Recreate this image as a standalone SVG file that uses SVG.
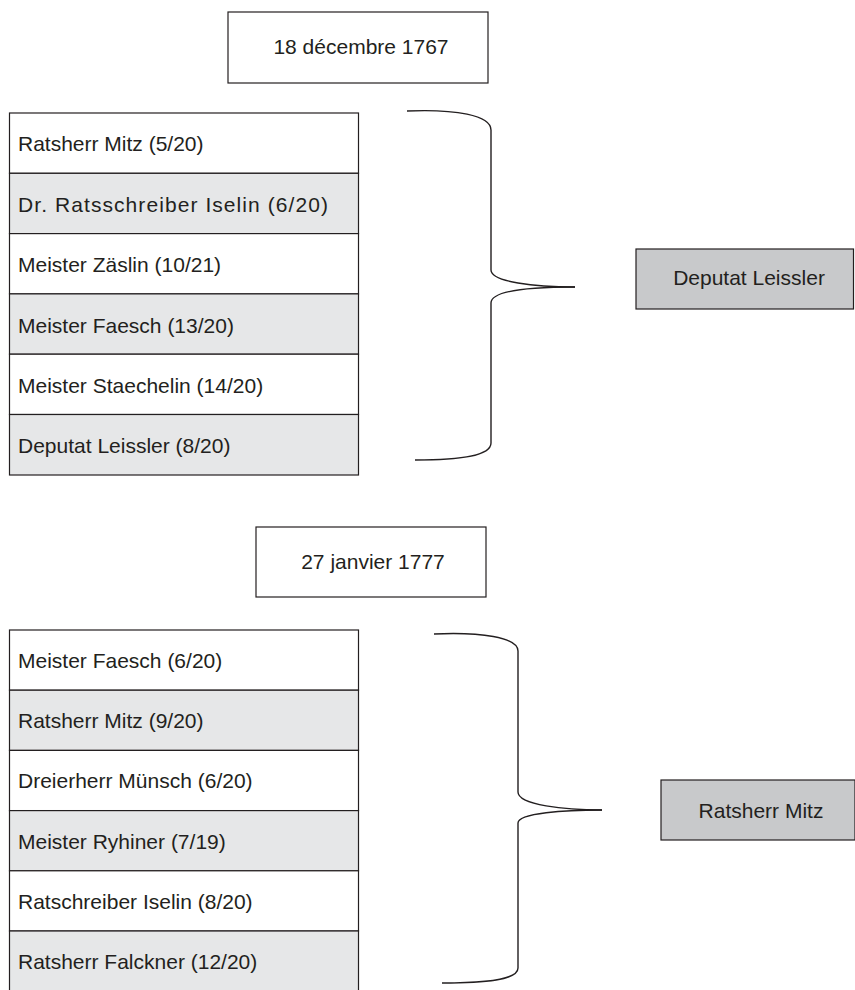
<svg xmlns="http://www.w3.org/2000/svg" width="855" height="990" viewBox="0 0 855 990">
  <style>
    text { font-family: "Liberation Sans", Arial, sans-serif; font-size: 21px; fill: #231f20; }
    .box { fill: #ffffff; stroke: #231f20; stroke-width: 1.2; }
    .row { fill: #ffffff; stroke: #231f20; stroke-width: 1.2; }
    .row.alt { fill: #e6e7e8; }
    .result { fill: #c8c9cb; stroke: #231f20; stroke-width: 1.2; }
    .brace { fill: none; stroke: #231f20; stroke-width: 1.4; }
    .mid { text-anchor: middle; }
  </style>

  <!-- Session of 18 December 1767 -->
  <g id="date1">
    <rect class="box" x="228" y="12" width="260" height="71"/>
    <text class="mid" x="361" y="54">18 décembre 1767</text>
  </g>

  <g id="list1">
    <g id="l1r1"><rect class="row" x="9.5" y="113" width="349" height="60.3"/><text x="18" y="151">Ratsherr Mitz (5/20)</text></g>
    <g id="l1r2"><rect class="row alt" x="9.5" y="173.3" width="349" height="60.3"/><text x="18" y="212" textLength="310" lengthAdjust="spacing">Dr. Ratsschreiber Iselin (6/20)</text></g>
    <g id="l1r3"><rect class="row" x="9.5" y="233.6" width="349" height="60.3"/><text x="18" y="272">Meister Zäslin (10/21)</text></g>
    <g id="l1r4"><rect class="row alt" x="9.5" y="293.9" width="349" height="60.3"/><text x="18" y="333">Meister Faesch (13/20)</text></g>
    <g id="l1r5"><rect class="row" x="9.5" y="354.2" width="349" height="60.3"/><text x="18" y="393">Meister Staechelin (14/20)</text></g>
    <g id="l1r6"><rect class="row alt" x="9.5" y="414.5" width="349" height="60.5"/><text x="18" y="453">Deputat Leissler (8/20)</text></g>
  </g>

  <g id="elected1">
    <rect class="result" x="636" y="249" width="217.5" height="60"/>
    <text class="mid" x="749" y="285">Deputat Leissler</text>
  </g>

  <!-- Session of 27 January 1777 -->
  <g id="date2">
    <rect class="box" x="256" y="527" width="230" height="70"/>
    <text class="mid" x="373" y="569">27 janvier 1777</text>
  </g>

  <g id="list2">
    <g id="l2r1"><rect class="row" x="9.5" y="630" width="349" height="60.2"/><text x="18" y="668">Meister Faesch (6/20)</text></g>
    <g id="l2r2"><rect class="row alt" x="9.5" y="690.2" width="349" height="60.2"/><text x="18" y="728">Ratsherr Mitz (9/20)</text></g>
    <g id="l2r3"><rect class="row" x="9.5" y="750.4" width="349" height="60.2"/><text x="18" y="788">Dreierherr Münsch (6/20)</text></g>
    <g id="l2r4"><rect class="row alt" x="9.5" y="810.6" width="349" height="60.2"/><text x="18" y="849">Meister Ryhiner (7/19)</text></g>
    <g id="l2r5"><rect class="row" x="9.5" y="870.8" width="349" height="60.2"/><text x="18" y="909">Ratschreiber Iselin (8/20)</text></g>
    <g id="l2r6"><rect class="row alt" x="9.5" y="931" width="349" height="62"/><text x="18" y="969">Ratsherr Falckner (12/20)</text></g>
  </g>

  <g id="elected2">
    <rect class="result" x="661" y="780" width="194" height="60"/>
    <text class="mid" x="761" y="818">Ratsherr Mitz</text>
  </g>

  <!-- Curly braces grouping each list towards its result -->
  <g id="connectors">
    <path class="brace" d="M407,111 C455,109 491,115 491,130 L491,270 C491,282 535,287 575,287"/>
    <path class="brace" d="M575,287 C535,287 491,290 491,303 L491,443 C491,456 460,460 415,460"/>
    <path class="brace" d="M434,634 C480,632 518,637 518,651 L518,792 C518,805 565,810 602,810"/>
    <path class="brace" d="M602,810 C565,810 518,813 518,823 L518,968 C518,980 485,983 442,983"/>
  </g>
</svg>
